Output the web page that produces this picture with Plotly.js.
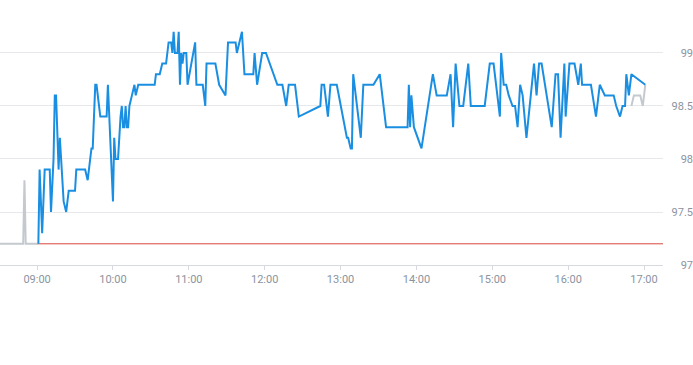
<!DOCTYPE html>
<html>
<head>
<meta charset="utf-8">
<script src="https://cdn.plot.ly/plotly-3.0.1.min.js"></script>
<style>html,body{margin:0;padding:0;background:#fff;}#chart{width:693px;height:365px;}</style>
</head>
<body>
<div id="chart"></div>
<script>
var DAY = '2024-01-02 ';

// Main session (blue) — times and prices
var mainTimes = ['09:01','09:02','09:04','09:06','09:10','09:11','09:13','09:14','09:15','09:17','09:18','09:21','09:23','09:25','09:30','09:31','09:38','09:40','09:42','09:43','09:44','09:46','09:47','09:48','09:50','09:55','09:56','10:00','10:01','10:02','10:04','10:06','10:07','10:08','10:09','10:10','10:11','10:12','10:13','10:15','10:17','10:18','10:20','10:33','10:34','10:37','10:39','10:42','10:44','10:46','10:47','10:48','10:49','10:51','10:52','10:53','10:54','10:55','10:56','10:58','10:59','11:05','11:06','11:11','11:13','11:14','11:21','11:24','11:29','11:31','11:37','11:38','11:42','11:44','11:51','11:52','11:54','11:58','12:01','12:10','12:14','12:17','12:19','12:24','12:27','12:44','12:45','12:47','12:50','12:52','12:57','13:05','13:06','13:08','13:09','13:10','13:16','13:18','13:26','13:31','13:36','13:53','13:54','13:55','13:56','13:58','14:04','14:13','14:16','14:24','14:27','14:29','14:31','14:34','14:37','14:41','14:43','14:54','14:58','15:01','15:06','15:07','15:09','15:11','15:13','15:16','15:18','15:20','15:22','15:24','15:27','15:33','15:35','15:37','15:39','15:47','15:50','15:52','15:54','15:57','15:58','16:01','16:05','16:08','16:10','16:11','16:18','16:22','16:25','16:29','16:36','16:38','16:41','16:43','16:45','16:46','16:48','16:50','17:01'];
var mainPrices = [97.2,97.9,97.3,97.9,97.9,97.5,98.0,98.6,98.6,97.9,98.2,97.6,97.5,97.7,97.7,97.9,97.9,97.8,98.0,98.1,98.1,98.7,98.7,98.6,98.4,98.4,98.7,97.6,98.2,98.0,98.0,98.4,98.5,98.3,98.3,98.5,98.3,98.3,98.5,98.6,98.7,98.6,98.7,98.7,98.8,98.8,98.9,98.9,99.1,99.1,99.0,99.2,99.0,99.0,99.2,98.7,99.0,98.9,99.0,99.0,98.7,99.1,98.7,98.7,98.5,98.9,98.9,98.7,98.6,99.1,99.1,99.0,99.2,98.8,98.8,99.0,98.7,99.0,99.0,98.7,98.7,98.5,98.7,98.7,98.4,98.5,98.7,98.7,98.4,98.7,98.7,98.2,98.2,98.1,98.1,98.8,98.2,98.7,98.7,98.8,98.3,98.3,98.7,98.3,98.6,98.3,98.1,98.8,98.6,98.6,98.8,98.3,98.9,98.5,98.5,98.9,98.5,98.5,98.9,98.9,98.4,99.0,98.7,98.7,98.6,98.5,98.5,98.3,98.7,98.6,98.2,98.9,98.6,98.9,98.9,98.3,98.8,98.8,98.2,98.9,98.4,98.9,98.9,98.7,98.9,98.7,98.7,98.4,98.7,98.6,98.6,98.5,98.4,98.5,98.5,98.8,98.6,98.8,98.7];

// Pre-market (grey)
var preTimes = ['08:30','08:49','08:50','08:51','09:01'];
var prePrices = [97.2,97.2,97.8,97.2,97.2];

// Late trading (grey)
var postTimes = ['16:50','16:52','16:57','16:59','17:01'];
var postPrices = [98.5,98.6,98.6,98.5,98.7];

// Previous close (red)
var prevCloseTimes = ['09:00','17:15'];
var prevClose = [97.2,97.2];

var yTicks = [97,97.5,98,98.5,99];
var xRange = ['08:30:40','17:15'];

function d(arr){ return arr.map(function(t){ return DAY + t; }); }

var traces = [
  {x: d(prevCloseTimes), y: prevClose, mode:'lines', line:{color:'#d9473f', width:1}, hoverinfo:'skip'},
  {x: d(preTimes), y: prePrices, mode:'lines', line:{color:'#c4c9cf', width:2}, hoverinfo:'skip'},
  {x: d(postTimes), y: postPrices, mode:'lines', line:{color:'#c4c9cf', width:2}, hoverinfo:'skip'},
  {x: d(mainTimes), y: mainPrices, mode:'lines', line:{color:'#1a8fe2', width:2}, hoverinfo:'skip'}
];

var tickFont = {family:'Roboto, sans-serif', size:11, color:'#8a949f'};

var layout = {
  width:693, height:365,
  margin:{l:0, r:0, t:25, b:100, pad:0},
  paper_bgcolor:'#fff', plot_bgcolor:'#fff',
  showlegend:false,
  xaxis:{
    type:'date', domain:[0, 663/693],
    range: d(xRange),
    dtick: 3600000, tick0: DAY + '09:00',
    tickformat:'%H:%M',
    ticks:'outside', ticklen:4, tickcolor:'#d6dade', tickwidth:1,
    showline:true, linecolor:'#d6dade', linewidth:1,
    showgrid:false, zeroline:false,
    tickfont: tickFont, fixedrange:true
  },
  yaxis:{
    range:[97, 99.264],
    tickvals: yTicks,
    ticktext: yTicks.map(function(v){ return String(v); }),
    side:'right', anchor:'free', position:1,
    ticklabelposition:'inside',
    ticklabeloverflow:'allow',
    ticklabelstandoff:-3,
    ticks:'', showline:false,
    showgrid:true, gridcolor:'#e6e8eb', gridwidth:1,
    zeroline:false,
    tickfont: tickFont, fixedrange:true
  }
};

Plotly.newPlot('chart', traces, layout, {displayModeBar:false, staticPlot:true});
</script>
</body>
</html>
